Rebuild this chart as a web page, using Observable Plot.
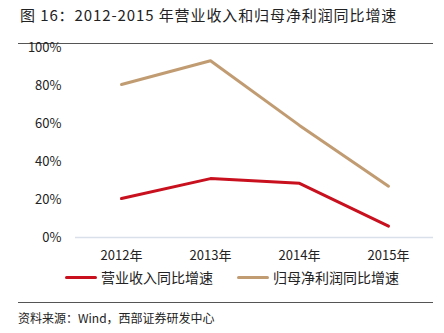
<!DOCTYPE html>
<html><head><meta charset="utf-8">
<script src="https://cdn.jsdelivr.net/npm/d3@7"></script>
<script src="https://cdn.jsdelivr.net/npm/@observablehq/plot@0.6"></script>
<style>
body{margin:0;background:#fff;font-family:"Noto Sans CJK SC","Noto Sans",sans-serif;}
#wrap{position:relative;width:444px;height:333px;overflow:hidden;}
#title{position:absolute;left:20px;top:4px;font-size:15px;color:#222;white-space:nowrap;letter-spacing:0.9px;}
.rule{position:absolute;left:18px;width:415px;height:1px;background:#555;}
#chart{position:absolute;left:0;top:30px;}
#legend{position:absolute;top:267px;left:0;width:444px;font-size:14px;color:#222;}
.item{position:absolute;top:0;display:flex;align-items:center;white-space:nowrap;}
.sw{display:inline-block;width:32px;height:3px;margin-right:4px;border-radius:2px;}
#source{position:absolute;left:18px;top:309px;font-size:12px;color:#222;white-space:nowrap;}
</style></head>
<body><div id="wrap">
<div id="title">图 16：2012-2015 年营业收入和归母净利润同比增速</div>
<div class="rule" style="top:43px"></div>
<div id="chart"></div>
<div id="legend"></div>
<div class="rule" style="top:302px"></div>
<div id="source">资料来源：Wind，西部证券研发中心</div>
</div>
<script>
const years = ["2012年","2013年","2014年","2015年"];
const revenueGrowth = [20.5, 31, 28.5, 6];
const profitGrowth = [80.5, 93, 59, 27];
const seriesNames = ["营业收入同比增速","归母净利润同比增速"];
const seriesColors = ["#C8101E","#C19C72"];
const yTicks = [0,20,40,60,80,100];

const rows = [];
years.forEach((y,i)=>{
  rows.push({year:y, value:revenueGrowth[i], series:seriesNames[0]});
  rows.push({year:y, value:profitGrowth[i], series:seriesNames[1]});
});

const chart = Plot.plot({
  width:444, height:240,
  marginLeft:75, marginRight:11, marginTop:17, marginBottom:33,
  style:{fontSize:"13px", fontFamily:"'Noto Sans CJK SC','Noto Sans',sans-serif", color:"#222", background:"transparent", overflow:"visible"},
  x:{type:"point", domain:years, padding:0.5, label:null},
  y:{domain:[0,100], label:null},
  color:{domain:seriesNames, range:seriesColors},
  marks:[
    Plot.axisY({ticks:yTicks, tickSize:0, tickPadding:14, tickFormat:d=>d+"%", label:null}),
    Plot.axisX({tickSize:0, tickPadding:13, label:null}),
    Plot.ruleY([0], {stroke:"#D9E0EA", strokeWidth:1.5}),
    Plot.line(rows, {x:"year", y:"value", z:"series", stroke:"series", strokeWidth:3})
  ]
});
document.getElementById("chart").appendChild(chart);

const legend = document.getElementById("legend");
const lefts = [65, 237];
seriesNames.forEach((n,i)=>{
  const it = document.createElement("div");
  it.className="item"; it.style.left = lefts[i]+"px";
  it.innerHTML = `<span class="sw" style="background:${seriesColors[i]}"></span><span>${n}</span>`;
  legend.appendChild(it);
});
</script>
</body></html>
